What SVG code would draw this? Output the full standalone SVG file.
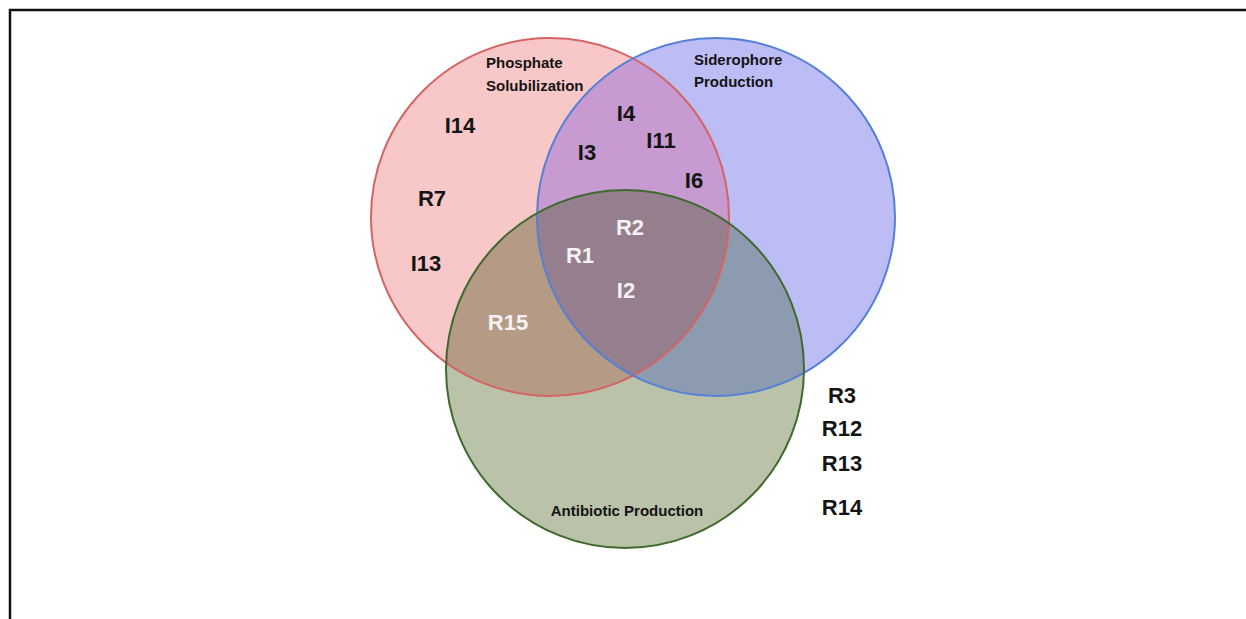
<svg xmlns="http://www.w3.org/2000/svg" width="1246" height="619" viewBox="0 0 1246 619">
<style>
.ol{fill:none;stroke-width:2}
.t{font-family:"Liberation Sans",Arial,sans-serif;font-weight:bold;fill:#141414}
.big{font-size:22px}
.small{font-size:15px}
.w{fill:#f6f2f4}
</style>
<defs>
<clipPath id="cR"><circle cx="550" cy="217" r="179"/></clipPath>
<clipPath id="cB"><circle cx="716" cy="217" r="179"/></clipPath>
</defs>
<rect width="1246" height="619" fill="#ffffff"/>
<path d="M10 619 V10 H1246" fill="none" stroke="#111" stroke-width="2.5"/>
<g id="regions">
<circle cx="550" cy="217" r="179" fill="#f8c8c8"/>
<circle cx="716" cy="217" r="179" fill="#bdbdf6"/>
<circle cx="625" cy="369" r="179" fill="#bac3aa"/>
<circle cx="716" cy="217" r="179" fill="#c79ad1" clip-path="url(#cR)"/>
<circle cx="625" cy="369" r="179" fill="#b59b86" clip-path="url(#cR)"/>
<circle cx="625" cy="369" r="179" fill="#8d9bb0" clip-path="url(#cB)"/>
<g clip-path="url(#cR)"><circle cx="625" cy="369" r="179" fill="#957f8e" clip-path="url(#cB)"/></g>
</g>
<g id="phosphate">
<circle class="ol" cx="550" cy="217" r="179" stroke="#d46464"/>
</g>
<g id="siderophore">
<circle class="ol" cx="716" cy="217" r="179" stroke="#5580d6"/>
</g>
<g id="antibiotic">
<circle class="ol" cx="625" cy="369" r="179" stroke="#3e6a2c"/>
</g>
<g id="labels">
<text class="t small" x="486" y="68">Phosphate</text>
<text class="t small" x="486" y="91">Solubilization</text>
<text class="t small" x="694" y="65">Siderophore</text>
<text class="t small" x="694" y="87">Production</text>
<text class="t small" x="627" y="516" text-anchor="middle">Antibiotic Production</text>
</g>
<g id="members">
<text class="t big" x="460" y="133" text-anchor="middle">I14</text>
<text class="t big" x="432" y="206" text-anchor="middle">R7</text>
<text class="t big" x="426" y="271" text-anchor="middle">I13</text>
<text class="t big" x="626" y="121" text-anchor="middle">I4</text>
<text class="t big" x="661" y="148" text-anchor="middle">I11</text>
<text class="t big" x="587" y="160" text-anchor="middle">I3</text>
<text class="t big" x="694" y="188" text-anchor="middle">I6</text>
<text class="t big w" x="630" y="235" text-anchor="middle">R2</text>
<text class="t big w" x="580" y="263" text-anchor="middle">R1</text>
<text class="t big w" x="626" y="298" text-anchor="middle">I2</text>
<text class="t big w" x="508" y="330" text-anchor="middle">R15</text>
<text class="t big" x="842" y="403" text-anchor="middle">R3</text>
<text class="t big" x="842" y="436" text-anchor="middle">R12</text>
<text class="t big" x="842" y="471" text-anchor="middle">R13</text>
<text class="t big" x="842" y="515" text-anchor="middle">R14</text>
</g>
</svg>
